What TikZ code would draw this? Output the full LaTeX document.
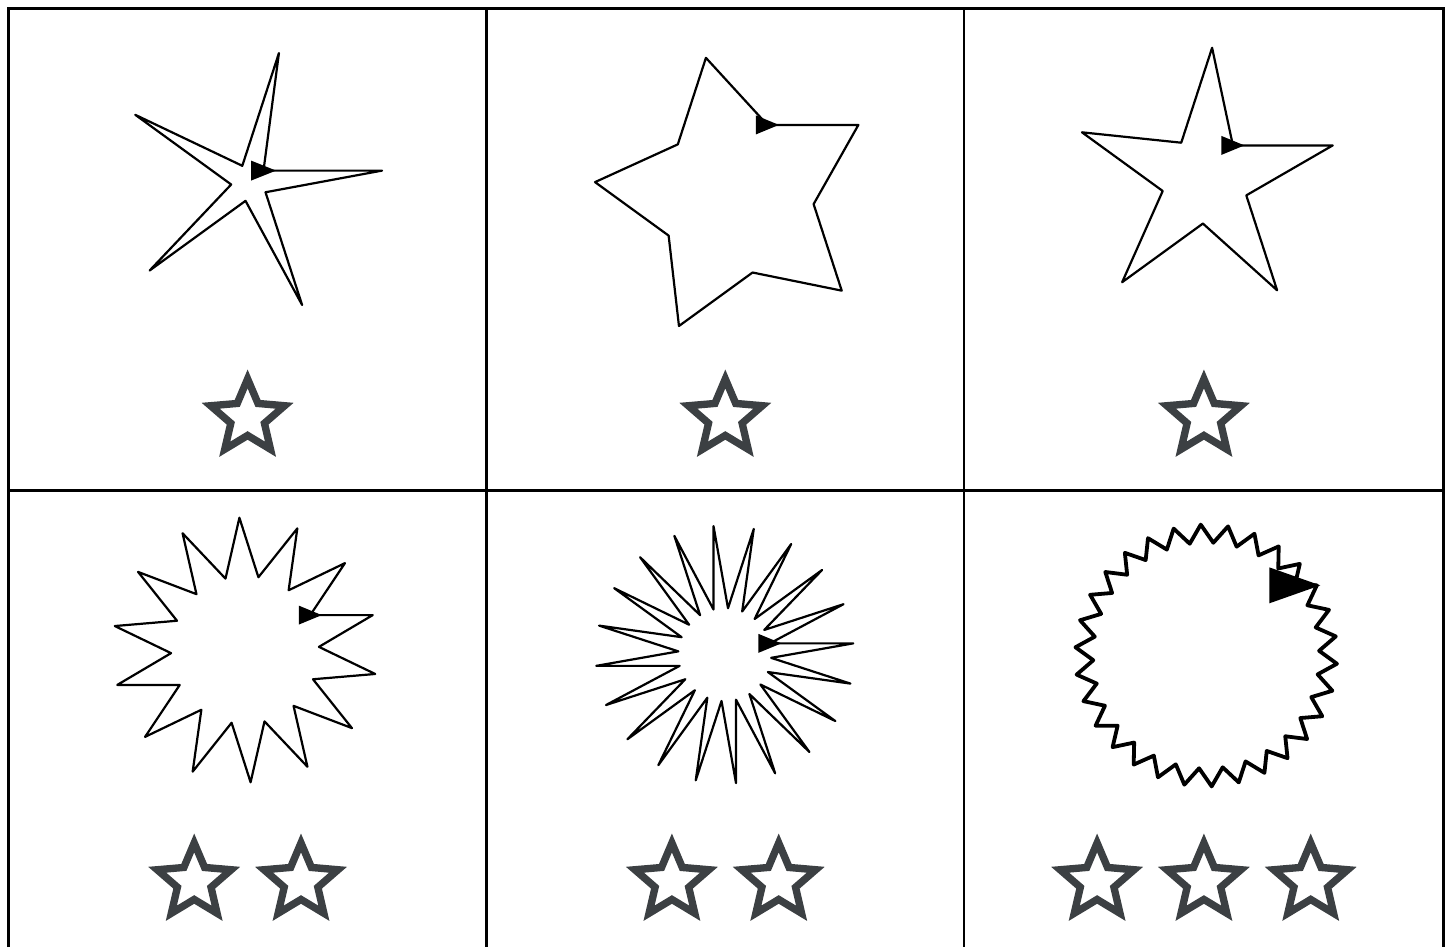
\documentclass[tikz,border=0pt]{standalone}
\usepackage{tikz}
\usepackage{xcolor}
\definecolor{ikongraa}{HTML}{3C4043}

% skilpaddestjerne: senter x, senter y, tagger, ytre radius, indre radius, pennbredde, pil halv lengde, pil halv hoyde
\newcommand{\skilpaddestjerne}[8]{%
  \pgfmathsetmacro\halvvinkel{180/#3}%
  \pgfmathsetmacro\startvinkel{atan(sin(\halvvinkel)/(#5/#4-cos(\halvvinkel)))}%
  \begin{scope}[shift={(#1,#2)}]
    \draw[line width=#6, line join=round] (\startvinkel:#5)
      \foreach \k in {1,...,#3} {-- (\startvinkel+2*\k*\halvvinkel-\halvvinkel:#4) -- (\startvinkel+2*\k*\halvvinkel:#5)} -- cycle;
    % skilpadda selv
    \fill[shift={(\startvinkel:#5)}] (-#7,-#8) -- (#7,0) -- (-#7,#8) -- cycle;
  \end{scope}}

\begin{document}
\begin{tikzpicture}[x=1pt, y=-1pt,
  rutenett/.style={line width=2.7pt, black},
  vurdering/.pic={\fill[ikongraa, even odd rule, scale=4.6, shift={(-12,-12)}]
    (22,9.24) -- (14.81,8.62) -- (12,2) -- (9.19,8.63) -- (2,9.24) -- (7.46,13.97) -- (5.82,21)
    -- (12,17.27) -- (18.18,21) -- (16.55,13.97) -- cycle
    (12,15.4) -- (8.24,17.67) -- (9.24,13.39) -- (5.92,10.51) -- (10.3,10.13) -- (12,6.1)
    -- (13.71,10.14) -- (18.09,10.52) -- (14.77,13.4) -- (15.77,17.68) -- cycle;}]
  \useasboundingbox (0,0) rectangle (1455,947);
  % Rutenett
  \draw[rutenett] (8.7,947) -- (8.7,8.7) -- (1443.7,8.7) -- (1443.7,947);
  \draw[rutenett] (8.7,490.3) -- (1443.7,490.3);
  \foreach \x in {486.5,964} \draw[rutenett] (\x,8.7) -- (\x,947);
  % Forste rad
  \skilpaddestjerne{249.6}{182.8}{5}{133}{18.5}{2.2pt}{12.5}{10}
  \skilpaddestjerne{736}{196.3}{5}{141.7}{78}{2.2pt}{11.5}{9.5}
  \skilpaddestjerne{1205.2}{179.6}{5}{132}{44}{2.2pt}{11.5}{9.5}
  % Andre rad
  \skilpaddestjerne{245}{650}{14}{132.4}{74}{2.2pt}{11.5}{9.5}
  \skilpaddestjerne{724.75}{654.6}{20}{129}{46.5}{2.2pt}{11.5}{9.5}
  \skilpaddestjerne{1206.2}{655.5}{30}{131}{113}{3.8pt}{25.5}{18}
  % Vanskelighetsgrad
  \pic at (247.6,415.5) {vurdering};
  \pic at (725.3,415.5) {vurdering};
  \pic at (1203.9,415.5) {vurdering};
  \foreach \x in {194.2,301} \pic at (\x,879.5) {vurdering};
  \foreach \x in {671.9,778.7} \pic at (\x,879.5) {vurdering};
  \foreach \x in {1097.1,1203.9,1310.7} \pic at (\x,879.5) {vurdering};
\end{tikzpicture}
\end{document}
